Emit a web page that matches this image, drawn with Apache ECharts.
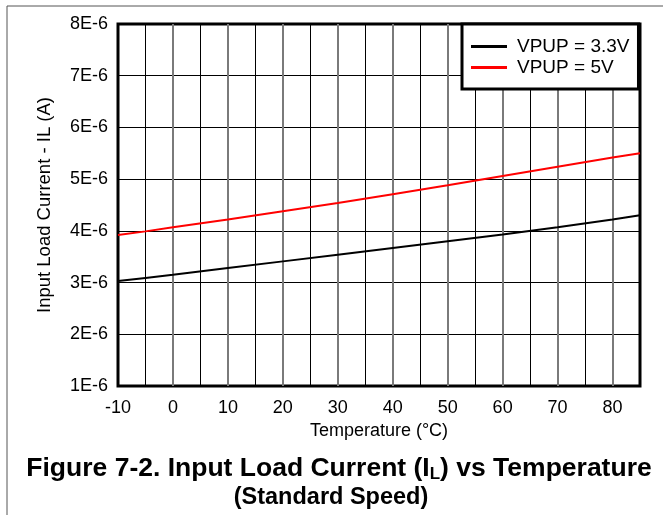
<!DOCTYPE html>
<html>
<head>
<meta charset="utf-8">
<script src="https://cdn.jsdelivr.net/npm/echarts@6/dist/echarts.min.js"></script>
<style>html,body{margin:0;padding:0;background:#fff;}#c{width:663px;height:515px;}</style>
</head>
<body>
<div id="c"></div>
<script>
// Temperature (°C)
const temps = [-10, -5, 0, 10, 20, 30, 40, 50, 60, 70, 80, 85];
// Input load current, in units of 1E-6 A
const vpup33 = [3.03, 3.09, 3.15, 3.28, 3.41, 3.54, 3.67, 3.80, 3.93, 4.07, 4.22, 4.30];
const vpup5  = [3.92, 3.99, 4.07, 4.22, 4.38, 4.54, 4.71, 4.88, 5.06, 5.24, 5.42, 5.50];
const seriesNames = ['VPUP = 3.3V', 'VPUP = 5V'];
const xTicks = [-10, 0, 10, 20, 30, 40, 50, 60, 70, 80];
const yTickLabels = ['1E-6','2E-6','3E-6','4E-6','5E-6','6E-6','7E-6','8E-6'];

const FONT = '"Liberation Sans", Arial, sans-serif';
const chart = echarts.init(document.getElementById('c'), null, {renderer: 'canvas'});
chart.setOption({
  animation: false,
  backgroundColor: '#fff',
  grid: {left: 118, right: 23, top: 24, bottom: 129, show: true, borderColor: '#000', borderWidth: 3, backgroundColor: 'transparent'},
  title: {
    text: '{b|Figure 7-2. Input Load Current (I}{s|L}{b|) vs Temperature}\n{c|(Standard Speed)}',
    left: 334, top: 450,
    padding: 5,
    textAlign: 'center',
    textStyle: {
      rich: {
        b: {fontFamily: FONT, fontWeight: 'bold', fontSize: 26.5, color: '#000', lineHeight: 28},
        c: {fontFamily: FONT, fontWeight: 'bold', fontSize: 23.5, color: '#000', lineHeight: 29, padding: [0, 16, 0, 0]},
        s: {fontFamily: FONT, fontWeight: 'bold', fontSize: 17, color: '#000', lineHeight: 28, verticalAlign: 'bottom', padding: [9, 0, 0, 0]}
      }
    }
  },
  legend: {
    data: seriesNames,
    orient: 'vertical',
    left: 462, top: 24,
    backgroundColor: '#fff',
    borderColor: '#000', borderWidth: 3, borderRadius: 0,
    padding: [13, 9, 12, 9],
    itemWidth: 36, itemHeight: 3, itemGap: 2,
    icon: 'rect',
    textStyle: {fontFamily: FONT, fontSize: 19, color: '#000', lineHeight: 19, padding: [0, 0, 0, 5]}
  },
  xAxis: {
    type: 'value', min: -10, max: 85, interval: 10,
    name: 'Temperature (°C)', nameLocation: 'middle', nameGap: 35,
    nameTextStyle: {fontFamily: FONT, fontSize: 18, color: '#000'},
    axisLine: {show: false}, axisTick: {show: false},
    axisLabel: {fontFamily: FONT, fontSize: 18, color: '#000', margin: 13,
      customValues: xTicks},
    splitLine: {show: true, showMinLine: false, showMaxLine: false, lineStyle: {color: '#7a7a7a', width: 2}},
    minorTick: {show: false, splitNumber: 2},
    minorSplitLine: {show: true, lineStyle: {color: '#000', width: 1}}
  },
  yAxis: {
    type: 'value', min: 1, max: 8, interval: 1,
    name: 'Input Load Current - IL (A)', nameLocation: 'middle', nameGap: 64,
    nameTextStyle: {fontFamily: FONT, fontSize: 18.5, color: '#000'},
    axisLine: {show: false}, axisTick: {show: false},
    axisLabel: {fontFamily: FONT, fontSize: 18, color: '#000', margin: 10,
      formatter: v => yTickLabels[Math.round(v) - 1]},
    splitLine: {show: true, showMinLine: false, showMaxLine: false, lineStyle: {color: '#000', width: 1}}
  },
  series: [
    {name: seriesNames[0], type: 'line', data: temps.map((t, i) => [t, vpup33[i]]), showSymbol: false,
     lineStyle: {color: '#000', width: 2}, itemStyle: {color: '#000'}, z: 3},
    {name: seriesNames[1], type: 'line', data: temps.map((t, i) => [t, vpup5[i]]), showSymbol: false,
     lineStyle: {color: '#ff0000', width: 2}, itemStyle: {color: '#ff0000'}, z: 3}
  ],
  graphic: [
    {type: 'line', shape: {x1: 7, y1: 6, x2: 663, y2: 6}, style: {stroke: '#555', lineWidth: 1}},
    {type: 'line', shape: {x1: 7, y1: 6, x2: 7, y2: 515}, style: {stroke: '#555', lineWidth: 1}}
  ]
});
</script>
</body>
</html>
